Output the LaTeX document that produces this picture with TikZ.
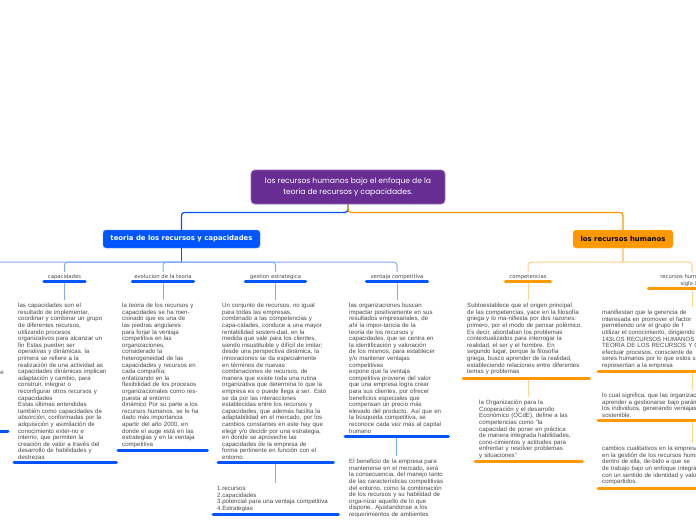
\documentclass[tikz,border=0pt]{standalone}
\usepackage{fontspec}
\setmainfont{Liberation Sans}
\newfontfamily\titlefont{Poppins}
\newfontfamily\labelfont{DejaVu Sans}
\usetikzlibrary{positioning, calc}
\definecolor{rootpurple}{RGB}{103,45,146}
\definecolor{teoriablue}{RGB}{0,85,255}
\definecolor{rhorange}{RGB}{255,153,0}
\colorlet{teorialine}{teoriablue!50}
\colorlet{rhline}{rhorange!45}
\colorlet{notegray}{black!72}
\newcommand{\notesize}{\fontsize{6.1}{6.6}\selectfont}
\tikzset{
    root node/.style={rectangle, rounded corners=4pt, fill=rootpurple, draw=rootpurple!70!white, line width=0.8pt, text=white, minimum width=194pt, minimum height=34pt, align=center, font=\titlefont\fontsize{7.6}{10.6}\selectfont},
    topic node/.style={rectangle, rounded corners=3pt, minimum height=18pt, inner xsep=4pt, font=\labelfont\bfseries\fontsize{6.9}{8}\selectfont},
    branch label/.style={anchor=south, minimum width=#1, text depth=1.2pt, inner ysep=2pt, inner xsep=0pt, align=center, text=notegray, font=\labelfont\fontsize{5.3}{6.5}\selectfont},
    note text/.style={anchor=north west, align=left, text width=#1, inner xsep=4pt, inner ysep=3pt, text=notegray, font=\notesize},
    link/.style={line width=1pt, rounded corners=3pt},
    blue bar/.style={line width=3pt, line cap=round, teoriablue},
    orange bar/.style={line width=3pt, line cap=round, rhorange},
}
\newcommand{\drawnotebars}[2]{
    % #1 = bar style, #2 = nodes that get a bar under them
    \foreach \name in {#2} {
        \draw[#1] (\name.south west) -- (\name.south east);
    }
}

\begin{document}
\begin{tikzpicture}[x=1pt, y=-1pt]
    \useasboundingbox (0,0) rectangle (696,520);
    \fill[white] (0,0) rectangle (696,520);

    \node[root node] (root) at (348,187) {los recursos humanos bajo el enfoque de la\\teoria de recursos y capacidades.};
    \node[topic node, fill=teoriablue, draw=teoriablue!60!white, text=white, minimum width=157pt] (teoria) at (181.5,239) {teoria de los recursos y capacidades};
    \node[topic node, fill=rhorange, draw=rhorange!60!white, text=black, minimum width=100pt] (rh) at (623,239) {los recursos humanos};

    % branch labels
    \foreach \name/\x/\w/\txt in {capLabel/64.5/41/capacidades, evoLabel/163/61/evolucion de la teoria, gestLabel/275.5/60/gestion estrategica, ventLabel/397/61/ventaja competitiva, compLabel/528/45/competencias} {
        \node[branch label=\w pt] (\name) at (\x,281.5) {\txt};
    }
    \node[branch label=87pt] (siglLabel) at (692,288.5) {recursos humanos en el\\siglo XXI};

    % texts under the blue topic
    \node[note text=94pt] (capText) at (14,300) {las capacidades son el\\resultado de implementar,\\coordinar y combinar un grupo\\de diferentes recursos,\\utilizando procesos\\organizativos para alcanzar un\\fin Estas pueden ser\\operativas y dinámicas, la\\primera se refiere a la\\realización de una actividad as\\capacidades dinámicas implican\\adaptación y cambio, para\\construir, integrar o\\reconfigurar otros recursos y\\capacidades\\Estas últimas entendidas\\también como capacidades de\\absorción, conformadas por la\\adquisición y asimilación de\\conocimiento exter-no e\\interno, que permiten la\\creación de valor a través del\\desarrollo de habilidades y\\destrezas};
    \node[note text=81pt] (evoText) at (118,300) {la teoria de los recursos y\\capacidades se ha men-\\cionado que es una de\\las piedras angulares\\para forjar la ventaja\\competitiva en las\\organizaciones,\\considerado la\\heterogeneidad de las\\capacidades y recursos en\\cada compañía;\\enfatizando en la\\flexibilidad de los procesos\\organizacionales como res-\\puesta al entorno\\dinámico Por su parte a los\\recursos humanos, se le ha\\dado más importancia\\apartir del año 2000, en\\donde el auge está en las\\estrategias y en la ventaja\\competitiva};
    \node[note text=107pt] (gestText) at (218,300) {Un conjunto de recursos, no igual\\para todas las empresas,\\combinado a las competencias y\\capa-cidades, conduce a una mayor\\rentabilidad sosteni-dad, en la\\medida que vale para los clientes,\\siendo insustituible y difícil de imitar;\\desde una perspectiva dinámica, la\\innovaciones se da especialmente\\en términos de nuevas\\combinaciones de recursos, de\\manera que existe toda una rutina\\organizativa que determina lo que la\\empresa es o puede llega a ser. Esto\\se da por las interacciones\\establecidas entre los recursos y\\capacidades, que además facilita la\\adaptabilidad en el mercado, por los\\cambios constantes en este hay que\\elegir y/o decidir por una estrategia,\\en donde se aproveche las\\capacidades de la empresa de\\forma pertinente en función con el\\entorno.};
    \node[note text=117pt] (gestList) at (213,483) {1.recursos\\2.capacidades\\3.potencial para una ventaja competitiva\\4.Estrategias};
    \node[note text=95pt] (ventText) at (345,300) {las organizaciones buscan\\impactar positivamente en sus\\resultados empresariales, de\\ahí la impor-tancia de la\\teoria de los recursos y\\capacidades, que se centra en\\la identificación y valoración\\de los mismos, para establecer\\y/o mantener ventajas\\competitivas\\expone que la ventaja\\competitiva proviene del valor\\que una empresa logra crear\\para sus clientes, por ofrecer\\beneficios especiales que\\compensan un precio más\\elevado del producto. Así que en\\la búsqueda competitiva, se\\reconoce cada vez más al capital\\humano};
    \node[note text=95pt] (ventMore) at (345,456) {El beneficio de la empresa para\\mantenerse en el mercado, será\\la consecuencia, del manejo tanto\\de las características competitivas\\del entorno, como la combinación\\de los recursos y su habilidad de\\orga-nizar aquello de lo que\\dispone. Ajustandonse a los\\requerimientos de ambientes};

    % texts under the orange topic
    \node[note text=118pt] (compText) at (463,300) {Subtoestablece que el origen principal\\de las competencias, yace en la filosofía\\griega y lo ma-nifiesta por dos razones:\\primero, por el modo de pensar polémico.\\Es decir, abordaban los problemas\\contextualizados para interrogar la\\realidad, el ser y el hombre. En\\segundo lugar, porque la filosofía\\griega, busco aprender de la realidad,\\estableciendo relaciones entre diferentes\\temas y problemas};
    \node[note text=99pt] (compMore) at (475,397) {la Organización para la\\Cooperación y el desarrollo\\Económico (OCdE), define a las\\competencias como "la\\capacidad de poner en práctica\\de manera integrada habilidades,\\cono-cimientos y actitudes para\\enfrentar y resolver problemas\\y situaciones"};
    \node[note text=150pt] (siglText) at (598,307) {manifiestan que la gerencia de\\interesada en promover el factor\\permitiendo unir el grupo de f\\utilizar el conocimiento, dirigiendo\\143LOS RECURSOS HUMANOS BAJO\\TEORÍA DE LOS RECURSOS Y CAPACIDADES\\efectuar procesos, consciente de\\seres humanos por lo que estos s\\representan a la empresa};
    \node[note text=150pt] (siglMore) at (598,390) {lo cual significa, que las organizaciones\\aprender a gestionarse bajo parámetros\\los individuos, generando ventajas\\sostenible.};
    \node[note text=150pt] (siglLast) at (598,443) {cambios cualitativos en la empresa\\en la gestión de los recursos humanos\\dentro de ella, de-bido a que se\\de trabajo bajo un enfoque integral\\con un sentido de identidad y valores\\compartidos.};

    % piece of a branch that lies left of the page
    \node[text=notegray, font=\notesize, inner sep=0pt, anchor=base east] (offText) at (4,374) {e};
    \coordinate (offLabel) at (-60,272);
    \coordinate (offBar) at (8,431);

    % connectors
    \draw[link, teoriablue, line width=1.3pt] (root.south) -- ++(0,8) -| (teoria.north);
    \draw[link, rhorange, line width=1.3pt] (root.south) -- ++(0,8) -| (rh.north);
    \draw[link, teoriablue, line width=1.3pt] (teoria.south) -- ++(0,14) coordinate (teoriaHub);
    \draw[link, rhline, line width=1.3pt] (rh.south) -- ++(0,14) coordinate (rhHub);
    \draw[link, teorialine] (teoriaHub) -| (offLabel);
    \foreach \name in {capLabel, evoLabel, gestLabel, ventLabel} {
        \draw[link, teorialine] (teoriaHub) -| (\name.north);
    }
    \foreach \name in {compLabel, siglLabel} {
        \draw[link, rhline] (rhHub) -| (\name.north);
    }
    \foreach \lab/\note in {capLabel/capText, evoLabel/evoText, gestLabel/gestText, ventLabel/ventText} {
        \draw[link, teorialine] (\lab.south) -- (\lab.south |- \note.north);
    }
    \draw[link, teorialine] (gestText.south) -- (gestList.north);
    \draw[link, teorialine] (ventText.south) -- (ventMore.north);
    \draw[link, rhline] (compLabel.south) -- (compLabel.south |- compText.north);
    \draw[link, rhline] (compLabel.south |- compText.south) -- (compLabel.south |- compMore.north);
    \draw[link, rhline] (siglLabel.south) -- (siglLabel.south |- siglText.north);
    \draw[link, rhline] (siglLabel.south |- siglText.south) -- (siglLabel.south |- siglMore.north);
    \draw[link, rhline] (siglLabel.south |- siglMore.south) -- (siglLabel.south |- siglLast.north);

    % bars under labels and texts
    \drawnotebars{blue bar}{capLabel, evoLabel, gestLabel, ventLabel, capText, evoText, gestText, gestList, ventText}
    \drawnotebars{orange bar}{compLabel, siglLabel, compText, compMore, siglText, siglMore, siglLast}
    \draw[blue bar] (offBar) -- ++(-70,0);
\end{tikzpicture}
\end{document}
